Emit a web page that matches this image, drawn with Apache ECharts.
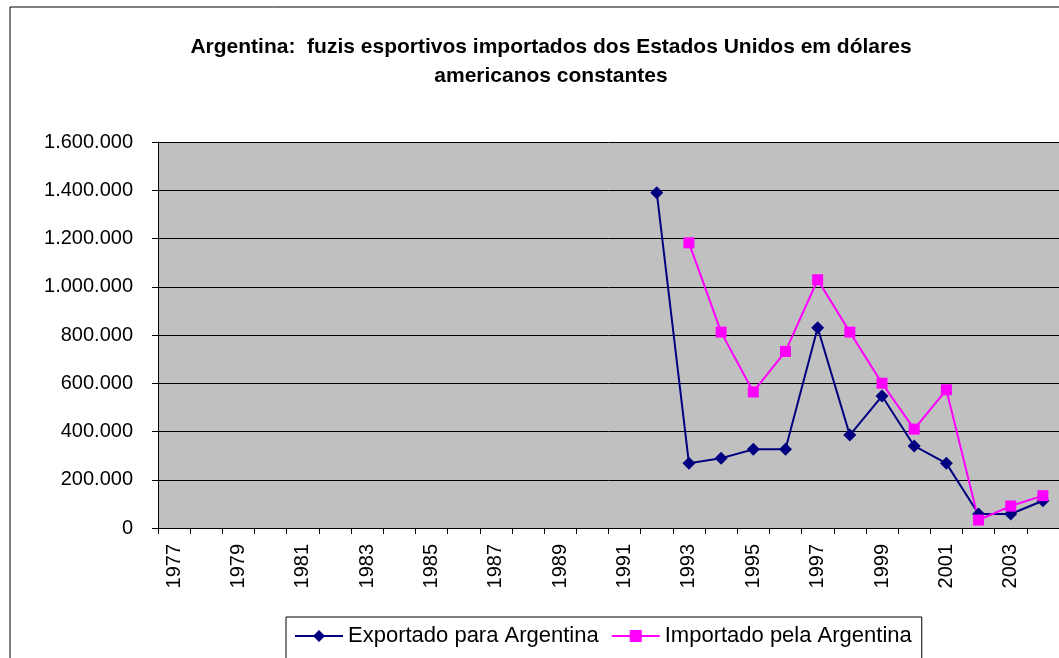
<!DOCTYPE html>
<html>
<head>
<meta charset="utf-8">
<script src="https://cdn.jsdelivr.net/npm/echarts@6/dist/echarts.min.js"></script>
<style>
  html, body { margin: 0; padding: 0; background: #fff; }
  #chart1 { width: 1059px; height: 658px; }
</style>
</head>
<body>
<div id="chart1"></div>
<script>
var years = ['1977','1978','1979','1980','1981','1982','1983','1984','1985','1986','1987','1988','1989','1990',
             '1991','1992','1993','1994','1995','1996','1997','1998','1999','2000','2001','2002','2003','2004'];
var exportado = [null,null,null,null,null,null,null,null,null,null,null,null,null,null,
                 null,1390000,268000,289000,326000,326000,830000,385000,547000,340000,268000,58000,58000,113000];
var importado = [null,null,null,null,null,null,null,null,null,null,null,null,null,null,
                 null,null,1182000,812000,564000,732000,1029000,812000,600000,410000,573000,33000,91000,134000];
var seriesNames = ['Exportado para Argentina', 'Importado pela Argentina'];

function fmt(v) {
  return String(v).replace(/\B(?=(\d{3})+(?!\d))/g, '.');
}

function chart() {
  var minechart1 = echarts.init(document.getElementById('chart1'));
  var font = 'Arial, "Liberation Sans", sans-serif';
  var option = {
    animation: false,
    backgroundColor: '#ffffff',
    textStyle: { fontFamily: font },
    title: {
      text: 'Argentina:  fuzis esportivos importados dos Estados Unidos em dólares\namericanos constantes',
      left: 546,
      top: 28,
      textAlign: 'center',
      textStyle: {
        fontSize: 21,
        fontWeight: 'bold',
        color: '#000',
        lineHeight: 29,
        fontFamily: font
      }
    },
    graphic: [{
      type: 'rect',
      shape: { x: 10, y: 7, width: 1100, height: 700 },
      style: { fill: 'none', stroke: '#000', lineWidth: 1 },
      silent: true
    }],
    legend: {
      left: 286,
      top: 617,
      padding: [8, 10, 20, 8],
      borderColor: '#000',
      borderWidth: 1,
      itemWidth: 48,
      itemHeight: 15,
      itemGap: 12,
      textStyle: { fontSize: 22, color: '#000', fontFamily: font },
      data: seriesNames
    },
    grid: {
      left: 158,
      right: -4,
      top: 142,
      bottom: 130,
      show: true,
      backgroundColor: '#c0c0c0',
      borderWidth: 0
    },
    xAxis: {
      type: 'category',
      data: years,
      boundaryGap: true,
      axisLine: { lineStyle: { color: '#000', width: 1 } },
      axisTick: { show: true, interval: 0, length: 6, lineStyle: { color: '#000' } },
      axisLabel: {
        interval: 1,
        rotate: 90,
        fontSize: 20,
        color: '#000',
        margin: 16,
        fontFamily: font
      }
    },
    yAxis: {
      type: 'value',
      min: 0,
      max: 1600000,
      interval: 200000,
      axisLine: { show: true, lineStyle: { color: '#000' } },
      axisTick: { show: true, length: 6, lineStyle: { color: '#000' } },
      axisLabel: {
        fontSize: 20,
        color: '#000',
        margin: 25,
        fontFamily: font,
        formatter: fmt
      },
      splitLine: { show: true, lineStyle: { color: '#000', width: 1 } }
    },
    series: [{
      name: seriesNames[0],
      type: 'line',
      data: exportado,
      symbol: 'diamond',
      symbolSize: 13,
      connectNulls: false,
      lineStyle: { color: '#000080', width: 2 },
      itemStyle: { color: '#000080' }
    }, {
      name: seriesNames[1],
      type: 'line',
      data: importado,
      symbol: 'rect',
      symbolSize: 11,
      connectNulls: false,
      lineStyle: { color: '#ff00ff', width: 2 },
      itemStyle: { color: '#ff00ff' }
    }]
  };
  minechart1.setOption(option);
}
chart();
</script>
</body>
</html>
